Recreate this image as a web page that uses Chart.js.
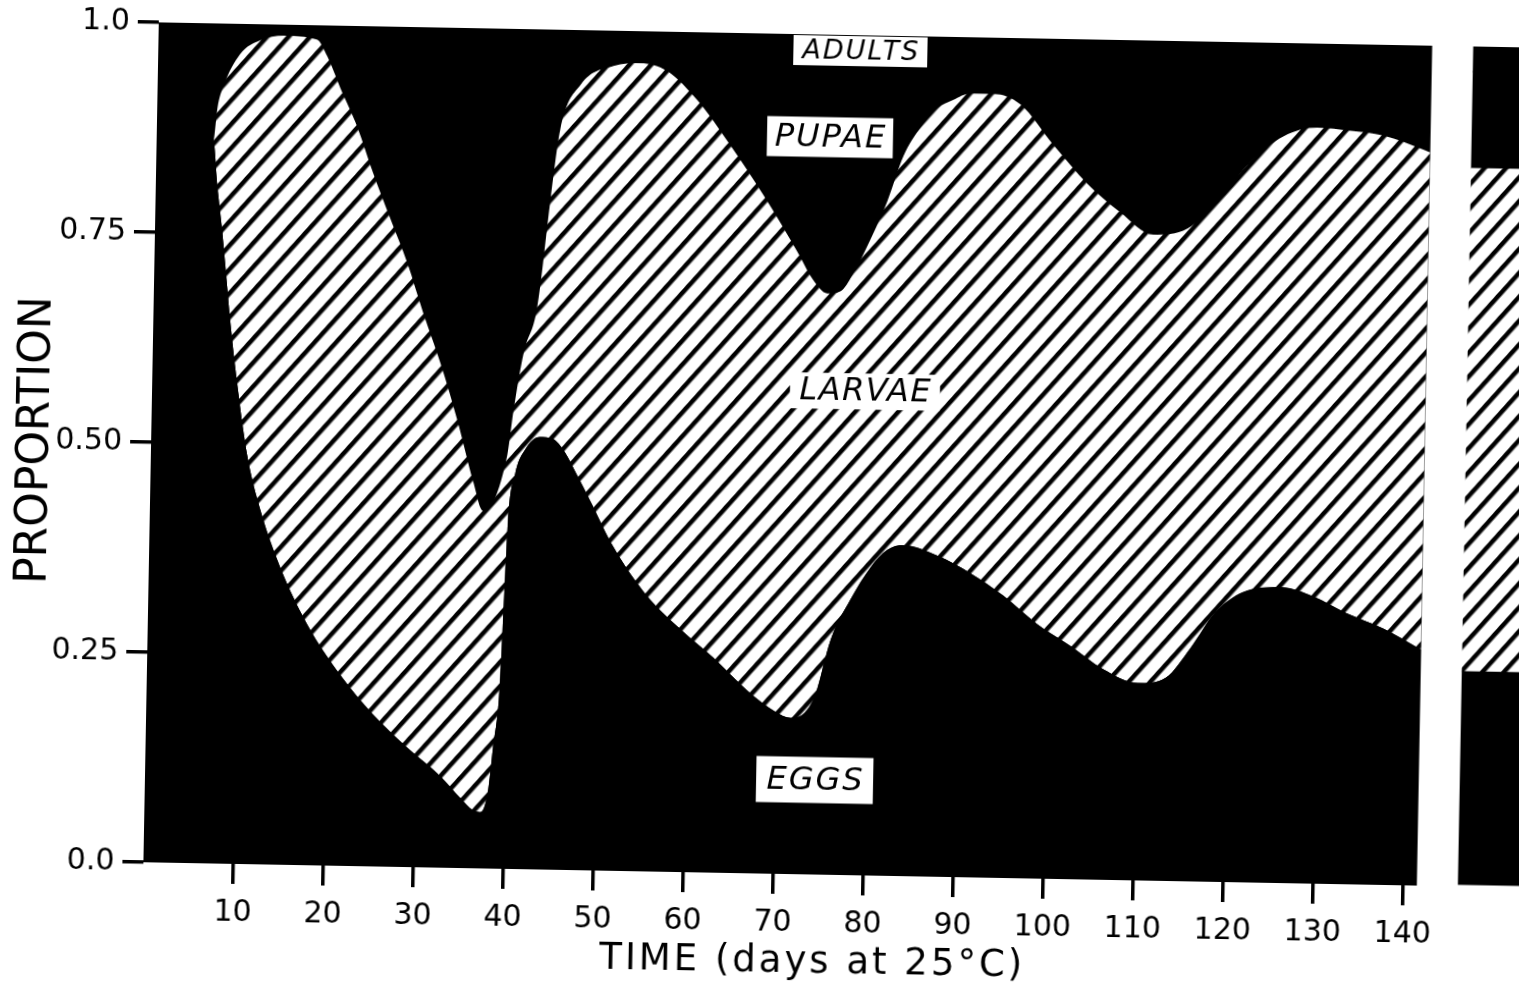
<!DOCTYPE html>
<html>
<head>
<meta charset="utf-8">
<script src="https://cdn.jsdelivr.net/npm/chart.js"></script>
<style>
html,body{margin:0;padding:0;overflow:hidden;background:#fff;width:1519px;height:985px;}
#wrap{position:absolute;left:0;top:0;width:1573px;height:985px;transform:rotate(1.05deg);transform-origin:788.5px 454px;}
canvas{display:block;}
</style>
</head>
<body>
<div id="wrap"><canvas id="c" width="1573" height="985"></canvas></div>
<script>
// ---------- DATA (cumulative proportions) ----------
// upper edge of the EGGS band
const eggsTopDays = [0, 6.3, 6.8, 7.5, 8.6, 9.4, 10.7, 12.3, 14.6, 17.7, 21.5, 25.2, 29.1, 32.8, 35.1, 36.5, 37.3, 38.1, 38.6, 39.2, 39.5, 39.8, 40.5, 41.6, 43.2, 44.6, 46.0, 47.3, 48.9, 51.6, 55.4, 59.2, 62.9, 66.7, 69.9, 71.6, 73.2, 74.3, 75.9, 78.0, 80.2, 82.0, 83.8, 87.6, 91.3, 95.0, 98.8, 102.5, 106.2, 110.1, 113.2, 115.9, 118.6, 122.2, 125.9, 129.4, 133.1, 137.3, 141.5];
const eggsTop     = [0.86, 0.86, 0.81, 0.75, 0.641, 0.575, 0.487, 0.421, 0.354, 0.287, 0.227, 0.181, 0.142, 0.109, 0.083, 0.069, 0.067, 0.090, 0.144, 0.212, 0.312, 0.413, 0.470, 0.500, 0.515, 0.513, 0.497, 0.472, 0.440, 0.385, 0.328, 0.289, 0.256, 0.218, 0.193, 0.186, 0.193, 0.214, 0.280, 0.328, 0.367, 0.388, 0.394, 0.382, 0.362, 0.336, 0.303, 0.278, 0.251, 0.235, 0.242, 0.278, 0.321, 0.348, 0.352, 0.342, 0.323, 0.305, 0.281];
// upper edge of the LARVAE band (eggs + larvae)
const larvaeTopDays = [0, 6.3, 6.7, 7.3, 9.1, 11.3, 13.9, 17.6, 18.8, 20.3, 22.3, 24.1, 26.1, 28.1, 30.0, 32.0, 34.0, 35.9, 37.0, 39.6, 40.2, 41.2, 42.6, 43.9, 44.8, 47.0, 50.6, 53.6, 56.6, 60.0, 63.7, 67.5, 71.4, 73.2, 74.8, 76.3, 77.6, 79.5, 81.3, 83.0, 84.8, 86.7, 88.4, 90.3, 92.9, 95.9, 99.6, 103.5, 107.2, 110.9, 114.7, 118.0, 121.6, 125.2, 128.9, 132.6, 136.3, 140.8, 141.5];
const larvaeTop     = [0.86, 0.86, 0.90, 0.925, 0.964, 0.981, 0.987, 0.983, 0.963, 0.926, 0.879, 0.826, 0.772, 0.719, 0.659, 0.600, 0.532, 0.459, 0.426, 0.493, 0.546, 0.614, 0.668, 0.800, 0.880, 0.935, 0.958, 0.962, 0.953, 0.919, 0.867, 0.808, 0.741, 0.708, 0.692, 0.695, 0.715, 0.757, 0.803, 0.857, 0.891, 0.915, 0.925, 0.933, 0.933, 0.921, 0.874, 0.828, 0.795, 0.769, 0.777, 0.811, 0.858, 0.889, 0.900, 0.897, 0.892, 0.876, 0.873];
// upper edge of the PUPAE band (estimated, not separable in the figure)
const pupaeTopDays = [0, 141.5];
const pupaeTop     = [0.97, 0.97];
// upper edge of the ADULTS band
const adultsTopDays = [0, 141.5];
const adultsTop     = [1.0, 1.0];
// stable stage distribution (bar at right): cumulative upper edges
const stableStages = ['EGGS', 'LARVAE', 'PUPAE', 'ADULTS'];
const stableTop    = [0.256, 0.855, 0.97, 1.0];
// axis ticks
const xTickValues = [10, 20, 30, 40, 50, 60, 70, 80, 90, 100, 110, 120, 130, 140];
const yTickValues = [0, 0.25, 0.5, 0.75, 1.0];
const yTickLabels = ['0.0', '0.25', '0.50', '0.75', '1.0'];
const xTitle = 'TIME (days at 25°C)';
const yTitle = 'PROPORTION';

// ---------- helpers ----------
const FONT = '"DejaVu Sans", "Liberation Sans", sans-serif';
const stableBarDay = 153;
const canvas = document.getElementById('c');
function makeHatch() {
  const P = 16, B = 4.5;
  const t = document.createElement('canvas');
  t.width = P; t.height = P;
  const c = t.getContext('2d');
  c.fillStyle = '#fff'; c.fillRect(0, 0, P, P);
  c.fillStyle = '#000'; c.fillRect(0, 0, B, P);
  const p = canvas.getContext('2d').createPattern(t, 'repeat');
  p.setTransform(new DOMMatrix().rotate(41));
  return p;
}
const hatch = makeHatch();
const pts = (days, vals) => days.map((d, i) => ({x: d, y: vals[i]}));

const areaBase = {
  type: 'line', pointRadius: 0, borderWidth: 1, borderColor: 'rgba(0,0,0,0)',
  cubicInterpolationMode: 'monotone'
};
const stageFill = ['#000', hatch, '#000', '#000'];

const datasets = [
  Object.assign({}, areaBase, {label: 'EGGS', data: pts(eggsTopDays, eggsTop), fill: 'origin', backgroundColor: stageFill[0]}),
  Object.assign({}, areaBase, {label: 'LARVAE', data: pts(larvaeTopDays, larvaeTop), fill: '-1', backgroundColor: stageFill[1]}),
  Object.assign({}, areaBase, {label: 'PUPAE', data: pts(pupaeTopDays, pupaeTop), fill: '-1', backgroundColor: stageFill[2]}),
  Object.assign({}, areaBase, {label: 'ADULTS', data: pts(adultsTopDays, adultsTop), fill: '-1', backgroundColor: stageFill[3]})
];
stableStages.forEach((s, i) => {
  datasets.push({
    type: 'bar', label: 'stable ' + s,
    data: [{x: stableBarDay, y: [i === 0 ? 0 : stableTop[i - 1], stableTop[i]]}],
    backgroundColor: stageFill[i], borderWidth: 0, barThickness: 124, grouped: false
  });
});

// black under the time-course block (hides seams between black bands)
const blackUnder = {
  id: 'blackUnder',
  beforeDatasetsDraw(chart) {
    const {ctx, scales: {x, y}} = chart;
    const x0 = x.getPixelForValue(eggsTopDays[0]);
    const x1 = x.getPixelForValue(eggsTopDays[eggsTopDays.length - 1]);
    const y1 = y.getPixelForValue(1), y0 = y.getPixelForValue(0);
    ctx.save(); ctx.fillStyle = '#000';
    ctx.fillRect(x0, y1, x1 - x0, y0 - y1);
    ctx.restore();
  }
};

// stage name labels in white boxes
const stageLabels = [
  {text: 'ADULTS', day: 78.0, value: 0.981, w: 134, h: 30, size: 27, sp: 2},
  {text: 'PUPAE',  day: 74.8, value: 0.878, w: 126, h: 40, size: 32, sp: 2},
  {text: 'LARVAE', day: 79.2, value: 0.576, w: 150, h: 36, size: 32, sp: 1.5},
  {text: 'EGGS',   day: 74.4, value: 0.1125, w: 117, h: 46, size: 32, sp: 2}
];
const labelPlugin = {
  id: 'stageLabels',
  afterDatasetsDraw(chart) {
    const {ctx, scales: {x, y}} = chart;
    stageLabels.forEach(l => {
      const px = x.getPixelForValue(l.day), py = y.getPixelForValue(l.value);
      ctx.save();
      ctx.fillStyle = '#fff';
      ctx.fillRect(px - l.w / 2, py - l.h / 2, l.w, l.h);
      ctx.fillStyle = '#000';
      ctx.font = 'italic ' + l.size + 'px ' + FONT;
      ctx.letterSpacing = l.sp + 'px';
      ctx.textAlign = 'center';
      ctx.textBaseline = 'middle';
      ctx.fillText(l.text, px + l.sp / 2, py + 1);
      ctx.restore();
    });
  }
};

// x-axis title
const xTitlePlugin = {
  id: 'xTitle',
  afterDraw(chart) {
    const {ctx, chartArea, scales: {x}} = chart;
    ctx.save();
    ctx.fillStyle = '#000';
    ctx.font = '37px ' + FONT;
    ctx.letterSpacing = '3px';
    ctx.textAlign = 'center';
    ctx.textBaseline = 'middle';
    ctx.fillText(xTitle, x.getPixelForValue(74.5), chartArea.bottom + 88);
    ctx.restore();
  }
};

new Chart(canvas, {
  type: 'line',
  data: {datasets},
  options: {
    responsive: false,
    animation: false,
    devicePixelRatio: 1,
    events: [],
    layout: {padding: {top: 34, left: 0, right: 0, bottom: 0}},
    plugins: {legend: {display: false}, tooltip: {enabled: false}},
    scales: {
      x: {
        type: 'linear', min: 0, max: 158, offset: false,
        afterBuildTicks: s => { s.ticks = xTickValues.map(v => ({value: v})); },
        afterFit: s => { s.height = 111; },
        grid: {offset: false, drawOnChartArea: false, drawTicks: true, tickLength: 20, color: '#000', lineWidth: 3.5},
        border: {display: false},
        ticks: {color: '#000', font: {family: FONT, size: 30}, padding: 11, maxRotation: 0, autoSkip: false,
                callback: v => String(v)}
      },
      y: {
        type: 'linear', min: 0, max: 1,
        afterBuildTicks: s => { s.ticks = yTickValues.map(v => ({value: v})); },
        afterFit: s => { s.width = 151; },
        grid: {offset: false, drawOnChartArea: false, drawTicks: true, tickLength: 21, color: '#000', lineWidth: 3.5},
        border: {display: false},
        ticks: {color: '#000', font: {family: FONT, size: 30}, padding: 8,
                callback: (v, i) => yTickLabels[i]},
        title: {display: true, text: yTitle, color: '#000', font: {family: FONT, size: 44}, padding: {top: 10, bottom: 0}}
      }
    }
  },
  plugins: [blackUnder, labelPlugin, xTitlePlugin]
});
</script>
</body>
</html>
